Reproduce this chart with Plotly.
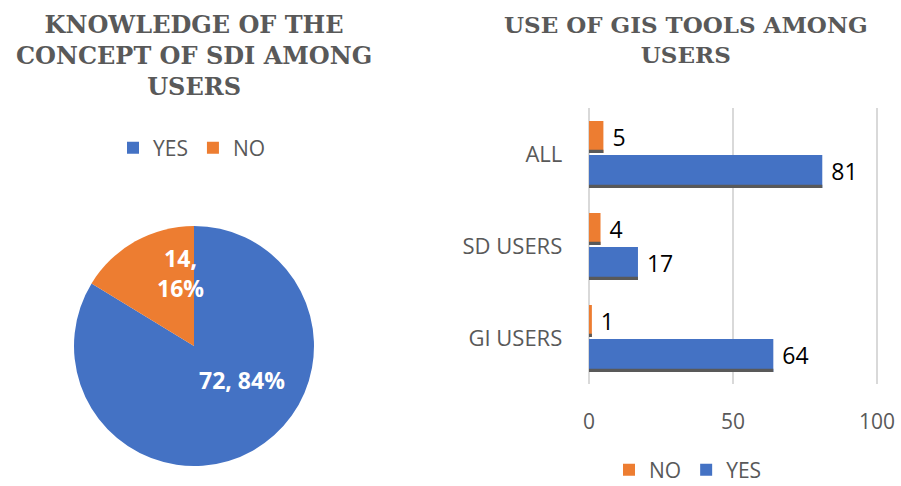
import plotly.graph_objects as go

# Pie: knowledge of the SDI concept
pie_labels = ["YES", "NO"]
pie_values = [72, 14]

# Bars: use of GIS tools by user group
groups = ["GI USERS", "SD USERS", "ALL"]
yes_counts = [64, 17, 81]
no_counts = [1, 4, 5]

BLUE = "#4472C4"
ORANGE = "#ED7D31"
SHADOW = "#595959"
GREY_TEXT = "#595959"
SANS = "'Open Sans', sans-serif"
SERIF = "'DejaVu Serif', serif"

W, H = 901, 486

fig = go.Figure()

fig.add_trace(go.Pie(
    labels=pie_labels, values=pie_values,
    marker=dict(colors=[BLUE, ORANGE], line=dict(width=0)),
    sort=False, direction="clockwise", rotation=0,
    textinfo="none",
    domain=dict(x=[74 / W, 314 / W], y=[1 - 466 / H, 1 - 226 / H]),
    legend="legend", hoverinfo="label+value+percent",
))

# Pie data labels ("value, percent"), placed inside each slice
pct = [round(100 * v / sum(pie_values)) for v in pie_values]
pie_label_px = {"YES": (242, 380), "NO": (180, 273)}
pie_annotations = []
for lab, v, p in zip(pie_labels, pie_values, pct):
    txt = f"{v}, {p}%" if v > 20 else f"{v},<br>{p}%"
    px, py = pie_label_px[lab]
    pie_annotations.append(dict(
        text=txt, x=px / W, y=1 - py / H, xref="paper", yref="paper",
        xanchor="center", yanchor="middle", showarrow=False,
        font=dict(family=SANS, size=23, color="white", weight="bold"),
    ))

# Bar geometry in category units (one category = 1)
BAR_H = 0.36
GAP = 0.01
SH = 0.035
label_font = dict(family=SANS, size=23, color="black")

fig.add_trace(go.Bar(
    y=groups, x=no_counts, orientation="h", name="NO",
    marker=dict(color=ORANGE, line=dict(width=0)),
    width=BAR_H - GAP, offset=GAP,
    texttemplate="\u00a0%{x}", textposition="outside", cliponaxis=False,
    textfont=label_font,
    xaxis="x", yaxis="y", legend="legend2",
))
fig.add_trace(go.Bar(
    y=groups, x=yes_counts, orientation="h", name="YES",
    marker=dict(color=BLUE, line=dict(width=0)),
    width=BAR_H, offset=-BAR_H - GAP,
    texttemplate="\u00a0%{x}", textposition="outside", cliponaxis=False,
    textfont=label_font,
    xaxis="x", yaxis="y", legend="legend2",
))
# dark bottom edge under each bar
for vals, off in [(no_counts, GAP), (yes_counts, -BAR_H - GAP)]:
    fig.add_trace(go.Bar(
        y=groups, x=vals, orientation="h", showlegend=False,
        marker=dict(color=SHADOW, line=dict(width=0)),
        width=SH, offset=off, hoverinfo="skip",
        xaxis="x", yaxis="y",
    ))

X0, PX_PER = 589, 2.88  # x position of value 0 and pixels per unit
XR = [-0.6, 100.6]

fig.update_layout(
    width=W, height=H,
    margin=dict(l=0, r=0, t=0, b=0, autoexpand=False),
    paper_bgcolor="white", plot_bgcolor="white",
    barmode="overlay",
    xaxis=dict(
        domain=[(X0 + XR[0] * PX_PER) / W, (X0 + XR[1] * PX_PER) / W], range=XR,
        tickvals=[0, 50, 100], showgrid=True, gridcolor="#D9D9D9", gridwidth=1.5,
        zeroline=False, showline=False, ticks="", automargin=False,
        tickfont=dict(family=SANS, size=21, color=GREY_TEXT),
        ticklabelstandoff=23,
    ),
    yaxis=dict(
        domain=[1 - 384 / H, 1 - 108 / H], range=[-0.5, 2.5],
        type="category", showgrid=False, zeroline=False, showline=False, ticks="",
        automargin=False,
        tickfont=dict(family=SANS, size=22, color=GREY_TEXT),
        ticklabelstandoff=24,
    ),
    legend=dict(
        orientation="h", x=192 / W, xanchor="center", y=1 - 148 / H, yanchor="middle",
        font=dict(family=SANS, size=21, color=GREY_TEXT), itemwidth=30,
        bgcolor="rgba(0,0,0,0)",
    ),
    legend2=dict(
        orientation="h", x=688 / W, xanchor="center", y=1 - 470 / H, yanchor="middle",
        font=dict(family=SANS, size=21, color=GREY_TEXT), itemwidth=30,
        traceorder="normal", bgcolor="rgba(0,0,0,0)",
    ),
    annotations=[
        dict(text="KNOWLEDGE OF THE<br>CONCEPT OF SDI AMONG<br>USERS",
             x=194 / W, y=1 - 8 / H, xref="paper", yref="paper",
             xanchor="center", yanchor="top", showarrow=False,
             font=dict(family=SERIF, size=24, color=GREY_TEXT, weight="bold")),
        dict(text="USE OF GIS TOOLS AMONG<br>USERS",
             x=686 / W, y=1 - 9 / H, xref="paper", yref="paper",
             xanchor="center", yanchor="top", showarrow=False,
             font=dict(family=SERIF, size=23, color=GREY_TEXT, weight="bold")),
    ] + pie_annotations,
)

fig.write_html("out.html")
